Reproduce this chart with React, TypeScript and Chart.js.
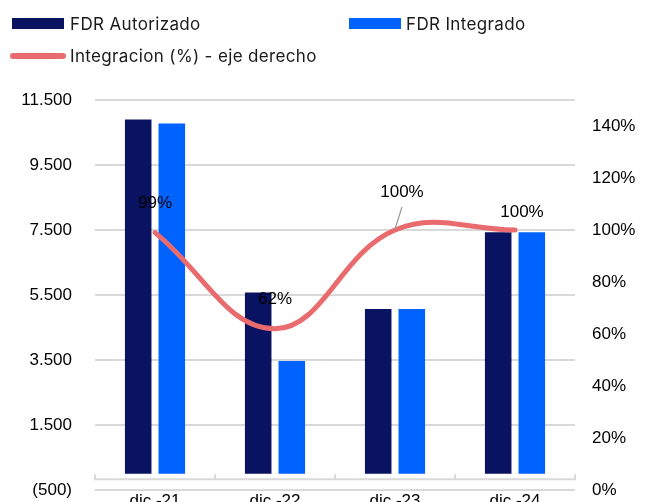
import React, { useEffect, useRef } from "react";
import { Chart, registerables } from "chart.js";

Chart.register(...registerables);

// ---- data ----
const categories = ["dic.-21", "dic.-22", "dic.-23", "dic.-24"];
const fdrAutorizado = [10900, 5580, 5070, 7430];
const fdrIntegrado = [10780, 3470, 5070, 7430];
const integracion = [99, 62, 100, 100];
const seriesNames = ["FDR Autorizado", "FDR Integrado", "Integracion (%) - eje derecho"];
const leftRange = [-500, 11500];
const leftStep = 2000;
const rightRange = [0, 150];
const rightStep = 20;

// ---- style ----
const DARK = "#0a1361";
const BLUE = "#0062ff";
const LINE = "#e96b6d";
const GRID = "#d9d9d9";
const TICK_FONT = { family: "'Liberation Sans', Arial, sans-serif", size: 17 };
const LEGEND_FONT = "Inter, 'Noto Sans', sans-serif";
// label offsets relative to the point (styling)
const LABEL_OFFSETS = [
  { dx: 0, dy: -29 },
  { dx: 0, dy: -29 },
  { dx: 7, dy: -38, leader: true },
  { dx: 7, dy: -18 },
];

const fmtThousands = (v: number) => {
  const s = Math.abs(Math.round(v)).toString().replace(/\B(?=(\d{3})+(?!\d))/g, ".");
  return v < 0 ? `(${s})` : s;
};

const zeroAxisPlugin = {
  id: "zeroAxis",
  beforeDatasetsDraw(chart: any) {
    const { ctx, chartArea, scales } = chart;
    const y0 = scales.y.getPixelForValue(0);
    const x = scales.x;
    const n = chart.data.labels.length;
    const w = (chartArea.right - chartArea.left) / n;
    ctx.save();
    ctx.strokeStyle = GRID;
    ctx.lineWidth = 2;
    ctx.beginPath();
    ctx.moveTo(chartArea.left, y0 + 5.5);
    ctx.lineTo(chartArea.right, y0 + 5.5);
    for (let i = 0; i <= n; i++) {
      const px = i < n ? x.getPixelForValue(i) - w / 2 : x.getPixelForValue(n - 1) + w / 2;
      ctx.moveTo(px, y0 + 0.5);
      ctx.lineTo(px, y0 + 6.5);
    }
    ctx.stroke();
    ctx.restore();
  },
};

const labelPlugin = {
  id: "pctLabels",
  afterDatasetsDraw(chart: any) {
    const { ctx } = chart;
    const meta = chart.getDatasetMeta(0);
    ctx.save();
    ctx.font = `17px ${TICK_FONT.family}`;
    ctx.fillStyle = "#000";
    ctx.textAlign = "center";
    ctx.textBaseline = "middle";
    meta.data.forEach((pt: any, i: number) => {
      const o = LABEL_OFFSETS[i] || { dx: 0, dy: -28 };
      if ((o as any).leader) {
        ctx.strokeStyle = "#9a9a9a";
        ctx.lineWidth = 1.2;
        ctx.beginPath();
        ctx.moveTo(pt.x + 7, pt.y - 23);
        ctx.lineTo(pt.x, pt.y - 1);
        ctx.stroke();
      }
      ctx.fillText(`${integracion[i]}%`, pt.x + o.dx, pt.y + o.dy);
    });
    ctx.restore();
  },
};

export default function App() {
  const ref = useRef<HTMLCanvasElement | null>(null);

  useEffect(() => {
    document.body.style.margin = "0";
    const canvas = ref.current;
    if (!canvas) return;
    const chart = new Chart(canvas, {
      type: "bar",
      data: {
        labels: categories,
        datasets: [
          {
            type: "line",
            label: seriesNames[2],
            data: integracion,
            yAxisID: "y1",
            borderColor: LINE,
            backgroundColor: LINE,
            borderWidth: 5,
            tension: 0.4,
            pointRadius: 0,
            borderCapStyle: "round",
            fill: false,
            order: 0,
          } as any,
          {
            type: "bar",
            label: seriesNames[0],
            data: fdrAutorizado,
            yAxisID: "y",
            backgroundColor: DARK,
            barPercentage: 0.79,
            categoryPercentage: 0.56,
            order: 1,
          },
          {
            type: "bar",
            label: seriesNames[1],
            data: fdrIntegrado,
            yAxisID: "y",
            backgroundColor: BLUE,
            barPercentage: 0.79,
            categoryPercentage: 0.56,
            order: 1,
          },
        ],
      },
      options: {
        responsive: false,
        animation: false,
        layout: { padding: { top: 100, left: 0, right: 0, bottom: 0 } },
        plugins: { legend: { display: false }, tooltip: { enabled: false } },
        scales: {
          x: {
            grid: { display: false, drawTicks: false },
            border: { display: false },
            ticks: { font: TICK_FONT, color: "#000", padding: 1, maxRotation: 0 },
            afterFit: (s: any) => {
              s.height = 30;
            },
          },
          y: {
            position: "left",
            min: leftRange[0],
            max: leftRange[1],
            grid: { color: GRID, lineWidth: 2, drawTicks: false },
            border: { display: false },
            ticks: {
              stepSize: leftStep,
              font: TICK_FONT,
              color: "#000",
              padding: 23,
              callback: (v: any) => fmtThousands(Number(v)),
            },
            afterFit: (s: any) => {
              s.width = 95;
              s.paddingTop = 0;
              s.paddingBottom = 0;
            },
          },
          y1: {
            position: "right",
            min: rightRange[0],
            max: rightRange[1],
            grid: { display: false, drawTicks: false },
            border: { display: false },
            ticks: {
              stepSize: rightStep,
              font: TICK_FONT,
              color: "#000",
              padding: 17,
              callback: (v: any) => `${v}%`,
            },
            afterBuildTicks: (s: any) => {
              s.ticks = s.ticks.filter((t: any) => t.value % rightStep === 0);
            },
            afterFit: (s: any) => {
              s.width = 73;
              s.paddingTop = 0;
              s.paddingBottom = 0;
            },
          },
        },
      },
      plugins: [zeroAxisPlugin, labelPlugin],
    });
    return () => chart.destroy();
  }, []);

  const textStyle: React.CSSProperties = {
    position: "absolute",
    fontFamily: LEGEND_FONT,
    fontSize: 17,
    letterSpacing: "0.35px",
    lineHeight: "20px",
    color: "#1a1a1a",
    whiteSpace: "nowrap",
  };

  return (
    <div style={{ position: "relative", width: 648, height: 502, overflow: "hidden", background: "#fff" }}>
      <canvas ref={ref} width={648} height={520} style={{ display: "block" }} />
      <div style={{ position: "absolute", left: 12, top: 18, width: 52, height: 11, background: DARK }} />
      <div style={{ ...textStyle, left: 70, top: 13.5 }}>{seriesNames[0]}</div>
      <div style={{ position: "absolute", left: 349, top: 18, width: 52, height: 11, background: BLUE }} />
      <div style={{ ...textStyle, left: 406, top: 13.5 }}>{seriesNames[1]}</div>
      <div style={{ position: "absolute", left: 10, top: 52.75, width: 56, height: 6.5, borderRadius: 3.25, background: LINE }} />
      <div style={{ ...textStyle, left: 70, top: 46 }}>{seriesNames[2]}</div>
    </div>
  );
}
